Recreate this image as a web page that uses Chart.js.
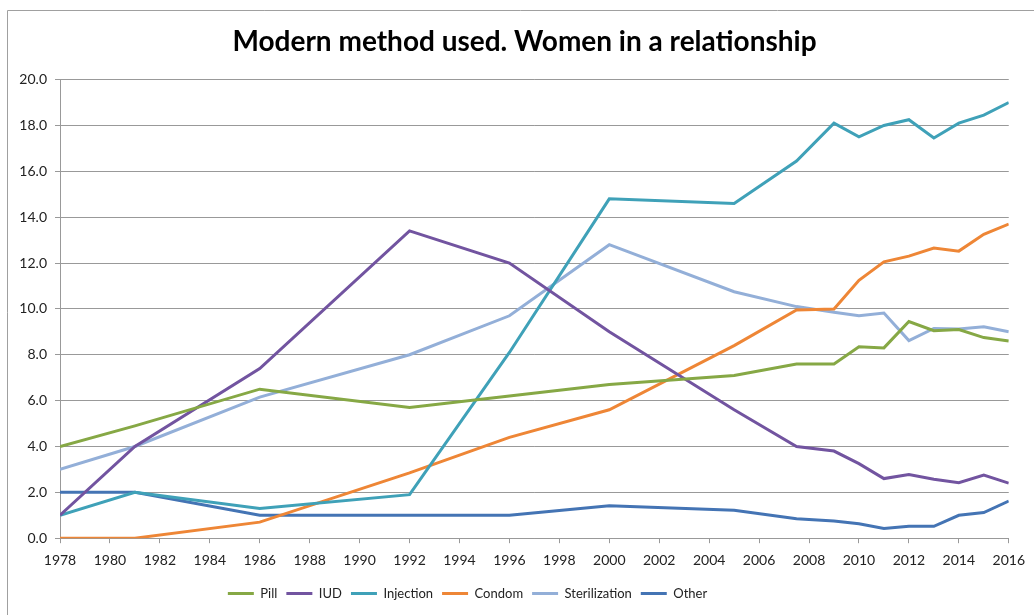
<!DOCTYPE html>
<html>
<head>
<meta charset="utf-8">
<script src="https://cdn.jsdelivr.net/npm/chart.js@4/dist/chart.umd.min.js"></script>
<style>
  html, body { margin: 0; padding: 0; background: #fff; }
  #wrap { width: 1034px; height: 615px; position: relative; }
</style>
</head>
<body>
<div id="wrap"><canvas id="chart"></canvas></div>
<script>
// survey years (x values), shared by every series
const years = [1978, 1981, 1986, 1992, 1996, 2000, 2005, 2007.5, 2009, 2010, 2011, 2012, 2013, 2014, 2015, 2016];

const pill          = [4.0, 4.9, 6.5, 5.7, 6.2, 6.7, 7.1, 7.6, 7.6, 8.35, 8.3, 9.45, 9.05, 9.1, 8.75, 8.6];
const iud           = [1.0, 4.0, 7.4, 13.4, 12.0, 9.0, 5.6, 4.0, 3.8, 3.25, 2.6, 2.78, 2.57, 2.42, 2.75, 2.4];
const injection     = [1.0, 2.0, 1.3, 1.9, 8.1, 14.8, 14.6, 16.45, 18.1, 17.5, 18.0, 18.25, 17.45, 18.1, 18.45, 19.0];
const condom        = [0.0, 0.0, 0.7, 2.85, 4.4, 5.6, 8.4, 9.95, 10.0, 11.25, 12.05, 12.3, 12.65, 12.52, 13.25, 13.7];
const sterilization = [3.0, 4.0, 6.15, 8.0, 9.7, 12.8, 10.75, 10.1, 9.85, 9.7, 9.82, 8.62, 9.15, 9.12, 9.22, 9.0];
const other         = [2.0, 2.0, 1.0, 1.0, 1.0, 1.42, 1.22, 0.85, 0.75, 0.63, 0.42, 0.52, 0.52, 1.0, 1.12, 1.62];

const seriesNames = ['Pill', 'IUD', 'Injection', 'Condom', 'Sterilization', 'Other'];
const seriesData = [pill, iud, injection, condom, sterilization, other];
const seriesColors = ['#86a845', '#7254a0', '#3fa1b8', '#ee8636', '#93afd8', '#4474b4'];

const yTicks = [0, 2, 4, 6, 8, 10, 12, 14, 16, 18, 20];

const toPoints = arr => arr.map((v, i) => ({ x: years[i], y: v }));

// grey frame like the spreadsheet chart border (only left and top are visible)
const framePlugin = {
  id: 'frame',
  beforeDraw(chart) {
    const ctx = chart.ctx;
    ctx.save();
    ctx.strokeStyle = '#a0a0a0';
    ctx.lineWidth = 1;
    ctx.beginPath();
    ctx.moveTo(7.5, chart.height);
    ctx.lineTo(7.5, 10.5);
    ctx.lineTo(chart.width, 10.5);
    ctx.stroke();
    ctx.restore();
  }
};

// title sits a bit right of centre, legend a bit left, as in the reference
const nudgeBoxes = {
  id: 'nudgeBoxes',
  afterLayout(chart) {
    const lg = chart.legend;
    if (lg) {
      lg.left -= 41;
      lg.right -= 41;
    }
    const tb = chart.titleBlock;
    if (tb) {
      tb.left += 16;
      tb.right += 16;
    }
  }
};

const canvas = document.getElementById('chart');
canvas.chart = new Chart(canvas, {
  type: 'line',
  data: {
    datasets: seriesNames.map((name, i) => ({
      label: name,
      data: toPoints(seriesData[i]),
      borderColor: seriesColors[i],
      backgroundColor: seriesColors[i],
      borderWidth: 3,
      pointRadius: 0,
      tension: 0,
      fill: false
    }))
  },
  options: {
    responsive: true,
    maintainAspectRatio: false,
    animation: false,
    layout: { padding: { left: 8, top: 10, right: 25, bottom: 5 } },
    plugins: {
      title: {
        display: true,
        text: 'Modern method used. Women in a relationship',
        color: '#000',
        font: { family: 'Lato', size: 28, weight: 'bold' },
        padding: { top: 15, bottom: 21 }
      },
      legend: {
        position: 'bottom',
        labels: {
          color: '#222',
          font: { family: 'Lato', size: 13 },
          boxWidth: 26,
          boxHeight: 3,
          padding: 9,
          generateLabels(chart) {
            return chart.data.datasets.map((ds, i) => ({
              text: ds.label,
              fillStyle: ds.borderColor,
              strokeStyle: ds.borderColor,
              lineWidth: 0,
              hidden: false,
              datasetIndex: i,
              fontColor: '#222'
            }));
          }
        }
      },
      tooltip: { enabled: false }
    },
    scales: {
      x: {
        type: 'linear',
        min: 1978,
        max: 2016,
        ticks: {
          stepSize: 2,
          color: '#222',
          font: { family: 'Lato', size: 14 },
          padding: 9,
          maxRotation: 0,
          autoSkip: false,
          callback: v => String(v)
        },
        grid: { drawOnChartArea: false, drawTicks: true, tickLength: 5, color: '#999' },
        border: { display: true, color: '#999', width: 1 }
      },
      y: {
        min: 0,
        max: 20,
        afterBuildTicks(axis) {
          axis.ticks = yTicks.map(v => ({ value: v }));
        },
        afterFit(axis) { axis.width = 52; },
        ticks: {
          color: '#222',
          font: { family: 'Lato', size: 14 },
          padding: 8,
          callback: v => Number(v).toFixed(1)
        },
        grid: { color: '#999', lineWidth: 1, tickLength: 5 },
        border: { display: true, color: '#999', width: 1 }
      }
    }
  },
  plugins: [framePlugin, nudgeBoxes]
});
</script>
</body>
</html>
